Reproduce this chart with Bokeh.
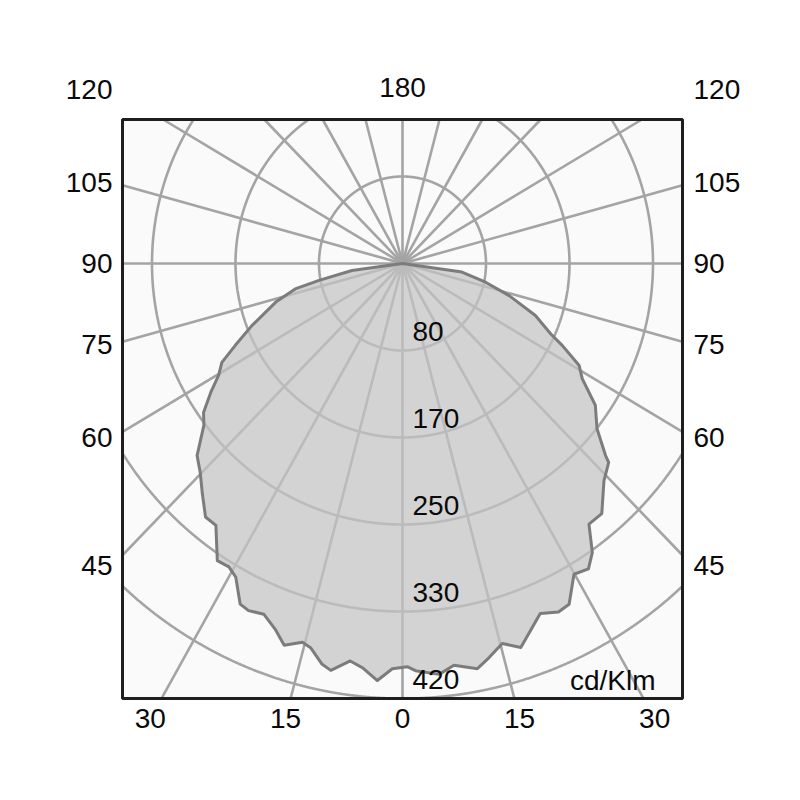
import numpy as np
from bokeh.plotting import figure
from bokeh.models import Range1d
from bokeh.core.properties import value
from bokeh.embed import file_html
from bokeh.resources import INLINE

# ---- data -------------------------------------------------------------
ring_values = [83.5, 167.0, 250.5, 334.0, 417.5]          # cd/klm
ring_labels = ["80", "170", "250", "330", "420"]
ray_angles = [0, 15, 30, 45, 60, 75, 90, 105, 120, 135, 150, 165,
              180, 195, 210, 225, 240, 255, 270, 285, 300, 315, 330, 345]
side_angles = [45, 60, 75, 90, 105, 120]
side_labels = ["45", "60", "75", "90", "105", "120"]
bottom_angles = [-30, -15, 0, 15, 30]
bottom_labels = ["30", "15", "0", "15", "30"]
top_label = "180"
unit_label = "cd/Klm"

# luminous intensity curve: signed gamma angle (deg) and intensity (cd/klm)
gamma = [-90, -82.4, -79.0, -77.2, -73.7, -68.4, -64.8, -62.3, -59.7, -57.2,
         -54.3, -52.0, -48.1, -45.2, -42.2, -39.0, -36.6, -33.0, -30.8, -29.0,
         -26.4, -24.8, -22.4, -19.8, -17.9, -15.4, -14.0, -11.8, -10.4, -7.8,
         -5.9, -3.6, -1.5, 0.7, 1.9, 5.3, 7.6, 10.9, 12.9, 15.3,
         17.8, 22.3, 25.0, 27.0, 29.9, 32.4, 34.4, 36.7, 39.7, 44.0,
         47.2, 47.8, 50.8, 54.8, 58.4, 61.0, 63.8, 65.5, 69.4, 73.9,
         77.8, 82.1, 90]
intensity = [0, 51, 85, 110, 132, 162, 185, 204, 213, 228,
             245, 252, 276, 285, 298, 313, 313, 340, 339, 344,
             365, 367, 364, 374, 385, 377, 380, 393, 397, 385,
             390, 401, 389, 387, 391, 396, 389, 396, 388, 378,
             387, 363, 369, 367, 344, 347, 336, 312, 312, 290,
             281, 274, 251, 236, 211, 202, 178, 163, 142, 111,
             85, 60, 0]

# ---- layout / style constants -----------------------------------------
FONT = value("Liberation Sans")
FSIZE = value("28px")
TXT = "#0a0a0a"
GRID = "#a4a4a4"
BOX_L, BOX_R, BOX_T, BOX_B = -280.0, 280.0, 138.2, -417.5   # frame box (data units)
LABEL_COL = 290.0      # side label column
BOTTOM_ROW = -436.7    # bottom label row
TOP_ROW = 169.0        # top label row
RING_LABEL_DY = 18.5
W = H = 792
YS = 1.042             # vertical px per unit

p = figure(width=W, height=H,
           x_range=Range1d(-402, W - 402),
           y_range=Range1d(-(H - 263) / YS, 263 / YS),
           output_backend="svg", toolbar_location=None,
           x_axis_location=None, y_axis_location=None,
           min_border=0)
p.grid.visible = False
p.outline_line_color = None
p.background_fill_color = "white"
p.border_fill_color = "white"


def inside(x, y):
    return (x >= BOX_L) & (x <= BOX_R) & (y >= BOX_B) & (y <= BOX_T)


# box background
p.quad(left=[BOX_L], right=[BOX_R], top=[BOX_T], bottom=[BOX_B],
       fill_color="#fafafa", line_color=None)

# rings, clipped to the box (NaN breaks the line outside)
phi = np.radians(np.arange(0, 360.05, 0.1))
ring_xs, ring_ys = [], []
for r in ring_values:
    x = r * np.sin(phi)
    y = -r * np.cos(phi)
    m = inside(x, y)
    ring_xs.append(np.where(m, x, np.nan).tolist())
    ring_ys.append(np.where(m, y, np.nan).tolist())
p.multi_line(ring_xs, ring_ys, line_color=GRID, line_width=2.6)

# rays, ending on the box edge
x1, y1 = [], []
for a in ray_angles:
    s, c = np.sin(np.radians(a)), -np.cos(np.radians(a))
    ts = []
    if s > 1e-9:
        ts.append(BOX_R / s)
    if s < -1e-9:
        ts.append(BOX_L / s)
    if c > 1e-9:
        ts.append(BOX_T / c)
    if c < -1e-9:
        ts.append(BOX_B / c)
    t = min(ts)
    x1.append(t * s)
    y1.append(t * c)
p.segment(x0=[0] * len(x1), y0=[0] * len(y1), x1=x1, y1=y1,
          line_color=GRID, line_width=2.6)

# intensity curve
g = np.radians(gamma)
I = np.array(intensity, dtype=float)
p.patch(I * np.sin(g), -I * np.cos(g), fill_color="#c3c3c3", fill_alpha=0.72,
        line_color="#7c7c7c", line_width=3, line_join="round")

# box outline
p.quad(left=[BOX_L], right=[BOX_R], top=[BOX_T], bottom=[BOX_B],
       fill_color=None, line_color="#1e1e1e", line_width=3)

# ring labels
p.text(x=[10] * len(ring_values), y=[-(r - RING_LABEL_DY) for r in ring_values],
       text=ring_labels, text_font=FONT, text_font_size=FSIZE,
       text_color=TXT, text_align="left", text_baseline="middle")

# unit label
p.text(x=[253], y=[-400], text=[unit_label], text_font=FONT, text_font_size=FSIZE,
       text_color=TXT, text_align="right", text_baseline="middle")

# side labels
sy = [-LABEL_COL / np.tan(np.radians(a)) for a in side_angles]
p.text(x=[-LABEL_COL] * len(sy), y=sy, text=side_labels, text_font=FONT,
       text_font_size=FSIZE, text_color=TXT, text_align="right",
       text_baseline="middle")
p.text(x=[LABEL_COL + 1] * len(sy), y=sy, text=side_labels, text_font=FONT,
       text_font_size=FSIZE, text_color=TXT, text_align="left",
       text_baseline="middle")

# bottom labels
bx = [-BOTTOM_ROW * np.tan(np.radians(a)) for a in bottom_angles]
p.text(x=bx, y=[BOTTOM_ROW] * len(bx), text=bottom_labels, text_font=FONT,
       text_font_size=FSIZE, text_color=TXT, text_align="center",
       text_baseline="middle")

# top label
p.text(x=[0], y=[TOP_ROW], text=[top_label], text_font=FONT, text_font_size=FSIZE,
       text_color=TXT, text_align="center", text_baseline="middle")

open("out.html", "w").write(file_html(p, INLINE))
